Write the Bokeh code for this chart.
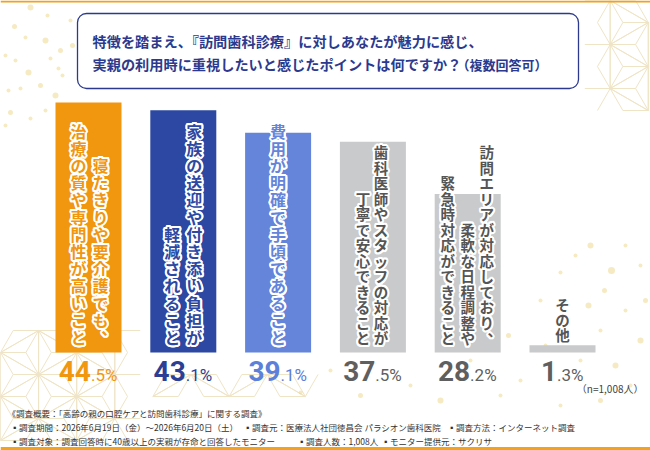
import math
from bokeh.plotting import figure
from bokeh.models import Range1d, ColumnDataSource, BoxAnnotation
from bokeh.embed import file_html
from bokeh.resources import INLINE
from bokeh.core.properties import value

# ---------------- data ----------------
categories = [
    ["寝たきりや要介護でも、", "治療の質や専門性が高いこと"],
    ["家族の送迎や付き添い負担が", "軽減されること"],
    ["費用が明確で手頃であること"],
    ["歯科医師やスタッフの対応が", "丁寧で安心できること"],
    ["訪問エリアが対応しており、", "柔軟な日程調整や", "緊急時対応ができること"],
    ["その他"],
]
values = [44.5, 43.1, 39.1, 37.5, 28.2, 1.3]
title_lines = ["特徴を踏まえ、『訪問歯科診療』に対しあなたが魅力に感じ、",
               "実親の利用時に重視したいと感じたポイントは何ですか？"]
title_note = "（複数回答可）"
sample_note = "（n=1,008人）"
footer_line1 = "《調査概要：「高齢の親の口腔ケアと訪問歯科診療」に関する調査》"
footer_line2 = ["▪調査期間：2026年6月19日（金）～2026年6月20日（土）",
                "▪調査元：医療法人社団徳昌会 パラシオン歯科医院",
                "▪調査方法：インターネット調査"]
footer_line3 = ["▪調査対象：調査回答時に40歳以上の実親が存命と回答したモニター",
                "▪調査人数：1,008人",
                "▪モニター提供元：サクリサ"]

# ---------------- styles / layout ----------------
bar_colors = ["#f1960f", "#2d48a2", "#6485da", "#c9cacb", "#c9cacb", "#c9cacb"]
text_colors = ["#f1960f", "#2d48a2", "#6485da", "#555555", "#555555", "#555555"]
pct_colors = ["#f1960f", "#2c3f94", "#5d80d8", "#5f5f5f", "#5f5f5f", "#5f5f5f"]
navy = "#2b3a8e"
col_dx = [[12, -10], [11, -11], [0], [8, -10], [19, 0, -20], [0]]
col_fs = [16, 16, 16, 14.5, 14.5, 14.5]
col_pitch = [17.2, 17.2, 17.2, 15.5, 15.5, 15.0]
JP = "Noto Sans CJK JP"

# decorative gold sparkles (page pixel positions and radii)
sparkle_px = [(30, 7, 3), (47, 15, 2), (14, 26, 2.5), (25, 37, 2), (45, 40, 3), (5, 55, 2),
              (60, 50, 2.5), (15, 60, 2), (50, 58, 2), (28, 72, 3), (62, 75, 2), (40, 85, 2.5),
              (8, 90, 2), (20, 88, 2), (55, 95, 3), (45, 110, 2), (10, 112, 2.5), (30, 118, 2),
              (58, 68, 2), (70, 20, 2), (72, 45, 2.5), (5, 125, 2),
              (590, 245, 3), (575, 255, 2), (611, 270, 3.5), (560, 272, 2), (604, 290, 2.5),
              (640, 265, 2), (588, 305, 3), (625, 310, 2), (566, 318, 2.5), (600, 330, 2),
              (640, 340, 3), (580, 360, 2), (615, 365, 3), (545, 345, 2), (508, 335, 2.5),
              (520, 380, 2), (600, 400, 2.5), (630, 385, 2), (470, 360, 2), (410, 385, 2),
              (360, 395, 2.5), (350, 340, 2), (540, 300, 2), (500, 395, 2), (440, 400, 3),
              (560, 405, 2), (625, 245, 2), (645, 300, 2.5), (300, 392, 2), (330, 370, 2)]

W, H = 650, 450
PX = 94.8          # px per category
PY = 5.62          # px per percent
X0 = -88 / PX
Y0 = -(H - 352) / PY


def rx(x_ref):
    return X0 + x_ref / PX


def ry(y_ref):
    return Y0 + (H - y_ref) / PY


p = figure(width=W, height=H, output_backend="svg", toolbar_location=None,
           x_range=Range1d(X0, X0 + W / PX), y_range=Range1d(Y0, Y0 + H / PY),
           x_axis_location=None, y_axis_location=None, min_border=0)
p.outline_line_color = None
p.grid.visible = False
p.background_fill_color = "white"
p.border_fill_color = "white"

# ---------- asanoha decoration (pale gold) ----------
def asanoha(x_min, x_max, y_min, y_max, s=44.0):
    xs, ys = [], []
    h = s * math.sqrt(3) / 2
    i0 = int(x_min // h) - 1
    i1 = int(x_max // h) + 2
    j0 = int(y_min // s) - 2
    j1 = int(y_max // s) + 2
    tris = []
    for i in range(i0, i1):
        xa = i * h
        xb = xa + h
        off = (s / 2) if (i % 2) else 0.0
        for j in range(j0, j1):
            y = j * s + off
            tris.append([(xa, y), (xa, y + s), (xb, y + s / 2)])
            tris.append([(xb, y + s / 2), (xb, y + 1.5 * s), (xa, y + s)])

    def inside(pt):
        return x_min <= pt[0] <= x_max and y_min <= pt[1] <= y_max
    for t in tris:
        cx = sum(q[0] for q in t) / 3
        cy = sum(q[1] for q in t) / 3
        for k in range(3):
            a, b = t[k], t[(k + 1) % 3]
            if inside(a) and inside(b):
                xs.append([rx(a[0]), rx(b[0])]); ys.append([ry(a[1]), ry(b[1])])
            if inside(a) and inside((cx, cy)):
                xs.append([rx(a[0]), rx(cx)]); ys.append([ry(a[1]), ry(cy)])
    return xs, ys

dx_all, dy_all = [], []
for reg in [(580, 650, 0, 130), (0, 150, 330, 450), (150, 330, 360, 400)]:
    a, b = asanoha(*reg)
    dx_all += a; dy_all += b
p.multi_line(dx_all, dy_all, line_color="#efe4c6", line_width=1)

p.scatter(x=[rx(s[0]) for s in sparkle_px], y=[ry(s[1]) for s in sparkle_px],
          size=[2 * s[2] for s in sparkle_px], marker="circle",
          fill_color="#ecd98f", fill_alpha=0.55, line_color=None)

# orange frame lines
p.quad(left=[rx(0), rx(0)], right=[rx(650), rx(650)], top=[ry(0), ry(446.5)],
       bottom=[ry(2), ry(450)], fill_color="#f2a21c", line_color=None)

# ---------- title box ----------
p.add_layout(BoxAnnotation(left=rx(77), right=rx(578), top=ry(13), bottom=ry(88),
                           fill_color="white", fill_alpha=1.0, line_color=navy,
                           line_alpha=1.0, line_width=1.3, border_radius=9,
                           level="underlay"))
p.text(x=[rx(92), rx(92)], y=[ry(40), ry(63)], text=title_lines,
       text_font=value(JP), text_font_style="bold", text_font_size="14.2px",
       text_color=navy, text_align="left", text_baseline="middle")
p.text(x=[rx(456)], y=[ry(63.5)], text=[title_note],
       text_font=value(JP), text_font_style="bold", text_font_size="13px",
       text_color=navy, text_align="left", text_baseline="middle")

# ---------- bars ----------
src = ColumnDataSource(dict(x=list(range(len(values))), top=values, color=bar_colors))
p.vbar(x="x", top="top", bottom=0, width=66 / PX, fill_color="color", line_color=None, source=src)

# ---------- vertical category labels ----------
cx, cy, ch, cc, cf = [], [], [], [], []
for i, cols in enumerate(categories):
    fs, pitch = col_fs[i], col_pitch[i]
    bar_px = values[i] * PY
    bottom_px = 7 if bar_px > 40 else bar_px + 3
    for cidx, col in enumerate(cols):
        n = len(col)
        for k, c in enumerate(col):
            xp = col_dx[i][cidx]
            yp = bottom_px + (n - k - 0.5) * pitch
            if c in "、。":
                xp += 0.55 * fs
                yp += 0.55 * fs
            cx.append(i + xp / PX)
            cy.append(yp / PY)
            ch.append(c)
            cc.append(text_colors[i])
            cf.append(f"{fs}px")
lsrc = ColumnDataSource(dict(x=cx, y=cy, t=ch, c=cc, fs=cf))
r = 2.0
for a in range(16):
    ang = a * math.pi / 8
    p.text(x="x", y="y", text="t", source=lsrc, text_color="white",
           x_offset=r * math.cos(ang), y_offset=r * math.sin(ang),
           text_font=value(JP), text_font_style="bold", text_font_size="fs",
           text_align="center", text_baseline="middle")
p.text(x="x", y="y", text="t", source=lsrc, text_color="c",
       text_font=value(JP), text_font_style="bold", text_font_size="fs",
       text_align="center", text_baseline="middle")

# ---------- percentage labels ----------
BIG, SMALL = 28, 17
BASE = 380.5
bx, bt, sxs, st, pc = [], [], [], [], []
for i, v in enumerate(values):
    s = f"{v:.1f}"
    big, small = s.split(".")[0], "." + s.split(".")[1] + "%"
    big_w = len(big) * 0.56 * BIG
    small_w = (0.26 + 0.56 + 0.74) * SMALL
    split = i + ((big_w - small_w) / 2) / PX
    bx.append(split); bt.append(big); sxs.append(split); st.append(small); pc.append(pct_colors[i])
n = len(values)
psrc = ColumnDataSource(dict(bx=bx, bt=bt, sx=sxs, st=st, c=pc,
                             yb=[ry(BASE - 0.345 * BIG)] * n,
                             ys=[ry(BASE - 0.345 * SMALL)] * n))
p.text(x="bx", y="yb", text="bt", source=psrc, text_color="c", text_font=value("Roboto"),
       text_font_style="bold", text_font_size=f"{BIG}px", text_align="right",
       text_baseline="middle")
p.text(x="sx", y="ys", text="st", source=psrc, text_color="c", text_font=value("Roboto"),
       text_font_style="normal", text_font_size=f"{SMALL}px", text_align="left",
       text_baseline="middle")

p.text(x=[rx(643)], y=[ry(388)], text=[sample_note], text_font=value(JP),
       text_font_size="10px", text_color="#444444", text_align="right", text_baseline="middle")

# ---------- footer ----------
foot_x = [rx(7)] + [rx(10), rx(243), rx(447)] + [rx(10), rx(297), rx(381)]
foot_y = [ry(412)] + [ry(426)] * 3 + [ry(440)] * 3
foot_t = [footer_line1] + footer_line2 + footer_line3
p.text(x=foot_x, y=foot_y, text=foot_t, text_font=value(JP), text_font_size="8.5px",
       text_color="#333333", text_align="left", text_baseline="middle")

open("out.html", "w").write(file_html(p, INLINE))
